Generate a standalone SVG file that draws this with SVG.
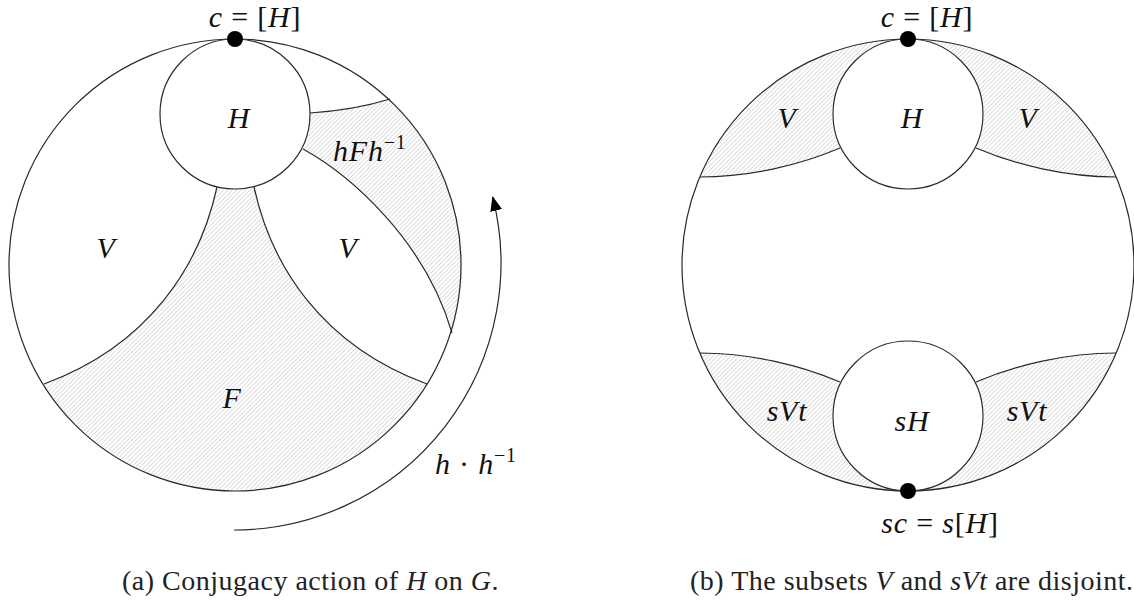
<svg xmlns="http://www.w3.org/2000/svg" width="1134" height="608" viewBox="0 0 1134 608">
  <defs>
    <pattern id="hatch" patternUnits="userSpaceOnUse" width="4.4" height="4.4">
      <path d="M-1.1,1.1 L1.1,-1.1 M0,4.4 L4.4,0 M3.3,5.5 L5.5,3.3" stroke="#c2c2c2" stroke-width="0.75" fill="none"/>
    </pattern>
    <marker id="arrow" markerUnits="userSpaceOnUse" viewBox="0 0 15 12" refX="14" refY="6" markerWidth="15" markerHeight="12" orient="auto">
      <path d="M0,0 L15,6 L0,12 Z" fill="#000"/>
    </marker>
    <style>
      .ln { fill: none; stroke: #2a2a2a; stroke-width: 1.2; }
      .disk { fill: #fff; stroke: #2a2a2a; stroke-width: 1.2; }
      .hat { fill: url(#hatch); stroke: none; }
      .m { font-family: "Liberation Serif", "DejaVu Serif", serif; font-size: 30px; fill: #111; letter-spacing: 0.8px; }
      .i { font-style: italic; }
      .cap { font-family: "Liberation Serif", "DejaVu Serif", serif; font-size: 28px; fill: #222; letter-spacing: 0.5px; }
      .sup { font-size: 20px; }
    </style>
  </defs>

  <g id="fig-a">
    <g id="a-outer">
      <circle cx="235" cy="265" r="226" fill="#fff" stroke="none"/>
    </g>
    <g id="a-F">
      <path class="hat" d="M217,187 C200,265 150,345 44,384 A226,226 0 0 0 427,384 C321,345 271,265 254,187 A75,75 0 0 1 217,187 Z"/>
    </g>
    <g id="a-hFh">
      <path class="hat" d="M310,113 Q355,110 390,99 A226,226 0 0 1 452,333 C425,240 350,175 303,149 A75,75 0 0 0 310,113 Z"/>
    </g>
    <g id="a-curves">
      <path class="ln" d="M217,187 C200,265 150,345 44,384"/>
      <path class="ln" d="M254,187 C271,265 321,345 427,384"/>
      <path class="ln" d="M310,113 Q355,110 390,99"/>
      <path class="ln" d="M303,149 C350,175 425,240 452,333"/>
    </g>
    <circle class="ln" cx="235" cy="265" r="226"/>
    <g id="a-H">
      <circle class="disk" cx="235" cy="114" r="75"/>
      <text class="m i" x="239" y="128" text-anchor="middle">H</text>
    </g>
    <g id="a-c">
      <circle cx="235" cy="39" r="8" fill="#000"/>
      <text class="m" x="255" y="27" text-anchor="middle"><tspan class="i">c</tspan> = [<tspan class="i">H</tspan>]</text>
    </g>
    <g id="a-labels">
      <text class="m i" x="106" y="258" text-anchor="middle">V</text>
      <text class="m i" x="348" y="258" text-anchor="middle">V</text>
      <text class="m i" x="232" y="408" text-anchor="middle">F</text>
      <text class="m" x="333" y="161"><tspan class="i">hFh</tspan><tspan class="sup" dy="-12">−1</tspan></text>
    </g>
    <g id="a-arrow">
      <path class="ln" d="M234,530 A267,267 0 0 0 492.7,197" marker-end="url(#arrow)"/>
      <text class="m" x="435" y="474"><tspan class="i">h</tspan> · <tspan class="i">h</tspan><tspan class="sup" dy="-12">−1</tspan></text>
    </g>
  </g>

  <g id="fig-b">
    <circle cx="908" cy="265" r="226" fill="#fff" stroke="none"/>
    <g id="b-V">
      <path class="hat" d="M908,39 A226,226 0 0 0 700,177 C750,177 800,165 840,148 A75,75 0 0 1 908,39 Z"/>
      <path class="hat" d="M908,39 A226,226 0 0 1 1116,177 C1066,177 1016,165 976,148 A75,75 0 0 0 908,39 Z"/>
    </g>
    <g id="b-sVt">
      <path class="hat" d="M908,491 A226,226 0 0 1 700,353 C750,353 800,365 840,382 A75,75 0 0 0 908,491 Z"/>
      <path class="hat" d="M908,491 A226,226 0 0 0 1116,353 C1066,353 1016,365 976,382 A75,75 0 0 1 908,491 Z"/>
    </g>
    <g id="b-curves">
      <path class="ln" d="M700,177 C750,177 800,165 840,148"/>
      <path class="ln" d="M1116,177 C1066,177 1016,165 976,148"/>
      <path class="ln" d="M700,353 C750,353 800,365 840,382"/>
      <path class="ln" d="M1116,353 C1066,353 1016,365 976,382"/>
    </g>
    <circle class="ln" cx="908" cy="265" r="226"/>
    <g id="b-H">
      <circle class="disk" cx="908" cy="114" r="75"/>
      <text class="m i" x="912" y="128" text-anchor="middle">H</text>
    </g>
    <g id="b-sH">
      <circle class="disk" cx="908" cy="416" r="75"/>
      <text class="m i" x="912" y="431" text-anchor="middle">sH</text>
    </g>
    <g id="b-c">
      <circle cx="908" cy="39" r="8" fill="#000"/>
      <text class="m" x="927" y="27" text-anchor="middle"><tspan class="i">c</tspan> = [<tspan class="i">H</tspan>]</text>
    </g>
    <g id="b-sc">
      <circle cx="908" cy="491" r="8" fill="#000"/>
      <text class="m" x="940" y="533" text-anchor="middle"><tspan class="i">sc</tspan> = <tspan class="i">s</tspan>[<tspan class="i">H</tspan>]</text>
    </g>
    <g id="b-labels">
      <text class="m i" x="787" y="128" text-anchor="middle">V</text>
      <text class="m i" x="1028" y="128" text-anchor="middle">V</text>
      <text class="m i" x="787" y="421" text-anchor="middle">sVt</text>
      <text class="m i" x="1027" y="421" text-anchor="middle">sVt</text>
    </g>
  </g>

  <g id="captions">
    <text class="cap" x="122" y="590">(a) Conjugacy action of <tspan class="i">H</tspan> on <tspan class="i">G</tspan>.</text>
    <text class="cap" x="690" y="590">(b) The subsets <tspan class="i">V</tspan> and <tspan class="i">sVt</tspan> are disjoint.</text>
  </g>
</svg>
